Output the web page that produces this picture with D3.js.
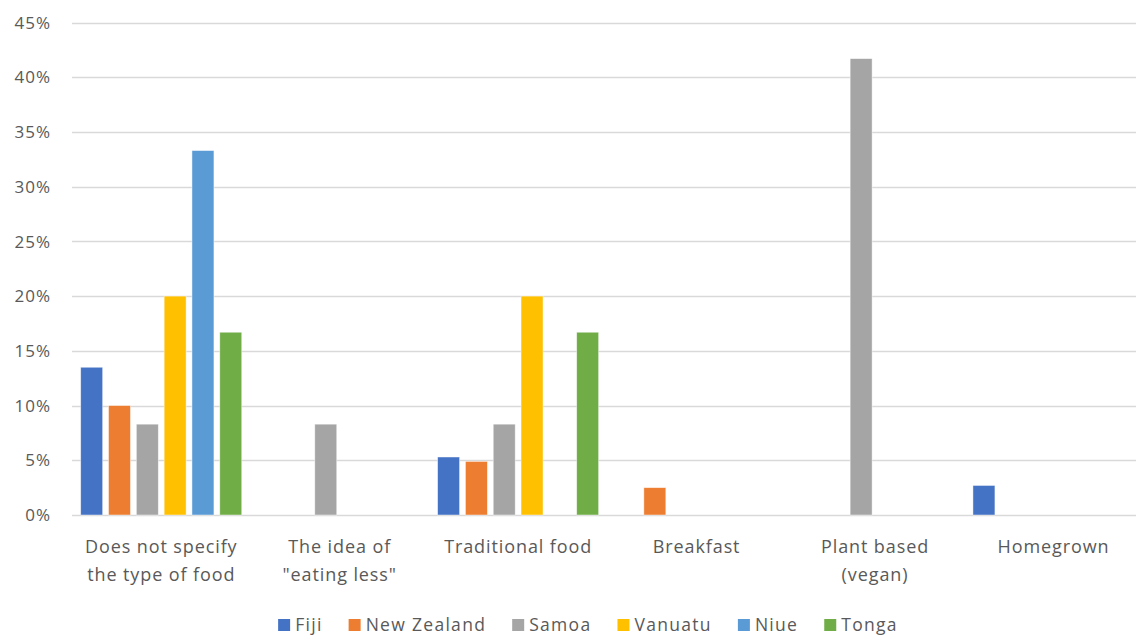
<!DOCTYPE html>
<html>
<head>
<meta charset="utf-8">
<script src="https://cdn.jsdelivr.net/npm/d3@7"></script>
<style>
  html, body { margin: 0; padding: 0; background: #fff; }
  svg { display: block; }
  text { font-family: "Open Sans", "Noto Sans", sans-serif; fill: #595959; }
</style>
</head>
<body>
<svg id="chart" width="1136" height="637"></svg>
<script>
// Categories (x axis), split over lines for the axis labels
const categories = [
  ["Does not specify", "the type of food"],
  ["The idea of", "\"eating less\""],
  ["Traditional food"],
  ["Breakfast"],
  ["Plant based", "(vegan)"],
  ["Homegrown"]
];
const series = ["Fiji", "New Zealand", "Samoa", "Vanuatu", "Niue", "Tonga"];
const colors = ["#4472C4", "#ED7D31", "#A5A5A5", "#FFC000", "#5B9BD5", "#70AD47"];

// Percent values per series, one entry per category (null = no bar)
const fiji       = [13.5, null, 5.3, null, null, 2.7];
const newZealand = [10.0, null, 4.9, 2.5, null, null];
const samoa      = [8.3, 8.3, 8.3, null, 41.7, null];
const vanuatu    = [20.0, null, 20.0, null, null, null];
const niue       = [33.3, null, null, null, null, null];
const tonga      = [16.7, null, 16.7, null, null, null];
const values = [fiji, newZealand, samoa, vanuatu, niue, tonga];

const yTicks = [0, 5, 10, 15, 20, 25, 30, 35, 40, 45];

const svg = d3.select("#chart");
const plot = { left: 72, right: 1142.7, top: 22.5, bottom: 515 };

const x0 = d3.scaleBand()
  .domain(d3.range(categories.length))
  .range([plot.left, plot.right])
  .paddingInner(0.0975)
  .paddingOuter(0.04875);

const x1 = d3.scaleBand()
  .domain(series)
  .range([0, x0.bandwidth()])
  .paddingInner(0.21)
  .paddingOuter(0);

const y = d3.scaleLinear().domain([0, 45]).range([plot.bottom, plot.top]);

// Gridlines
svg.append("g")
  .selectAll("line")
  .data(yTicks)
  .join("line")
  .attr("x1", plot.left)
  .attr("x2", 1136)
  .attr("y1", d => Math.round(y(d)) + 0.5)
  .attr("y2", d => Math.round(y(d)) + 0.5)
  .attr("stroke", "#d9d9d9")
  .attr("stroke-width", 1.3);

// Y tick labels
svg.append("g")
  .selectAll("text")
  .data(yTicks)
  .join("text")
  .attr("x", 51)
  .attr("y", d => y(d))
  .attr("dy", "0.36em")
  .attr("text-anchor", "end")
  .attr("font-size", 17)
  .attr("letter-spacing", 1)
  .text(d => d + "%");

// Bars
const rows = [];
values.forEach((arr, si) => arr.forEach((v, ci) => {
  if (v !== null) rows.push({ s: series[si], c: ci, v, color: colors[si] });
}));

svg.append("g")
  .selectAll("rect")
  .data(rows)
  .join("rect")
  .attr("x", d => x0(d.c) + x1(d.s))
  .attr("width", x1.bandwidth())
  .attr("y", d => y(d.v))
  .attr("height", d => y(0) - y(d.v))
  .attr("fill", d => d.color)
  .attr("stroke", "#ffffff")
  .attr("stroke-opacity", 0.6)
  .attr("stroke-width", 0.75);

// Category labels
const catG = svg.append("g")
  .selectAll("text")
  .data(categories)
  .join("text")
  .attr("text-anchor", "middle")
  .attr("font-size", 18)
  .attr("letter-spacing", 0.9)
  .attr("transform", (d, i) => `translate(${x0(i) + x0.bandwidth() / 2},553)`);
catG.selectAll("tspan")
  .data(d => d)
  .join("tspan")
  .attr("x", 0)
  .attr("dy", (d, i) => i === 0 ? 0 : 28)
  .text(d => d);

// Legend
const legend = svg.append("g");
const items = legend.selectAll("g")
  .data(series)
  .join("g");
items.append("rect")
  .attr("width", 12)
  .attr("height", 12)
  .attr("y", -12)
  .attr("fill", (d, i) => colors[i]);
items.append("text")
  .attr("x", 17)
  .attr("y", 0)
  .attr("font-size", 17.5)
  .attr("letter-spacing", 1.3)
  .text(d => d);

let cursor = 0;
const offsets = [];
items.each(function () {
  offsets.push(cursor);
  const w = this.getBBox().width;
  cursor += w + 26;
});
const totalW = cursor - 26;
const startX = 588 - totalW / 2;
items.attr("transform", (d, i) => `translate(${startX + offsets[i]},631)`);
</script>
</body>
</html>
